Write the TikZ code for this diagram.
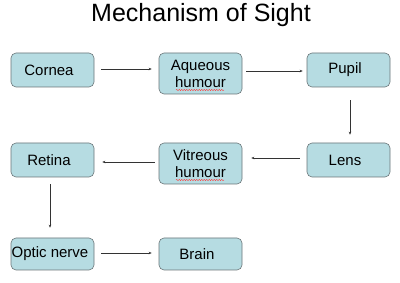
\documentclass[tikz,border=0pt]{standalone}
\usepackage{fontspec}
\setmainfont{Liberation Sans}
\usetikzlibrary{arrows.meta,decorations.pathmorphing}
\definecolor{boxfill}{HTML}{B6DCE2}
\definecolor{boxline}{HTML}{6A7578}
\newcommand{\lpad}{\rule{7pt}{0pt}}
\begin{document}
\begin{tikzpicture}[x=1pt,y=-1pt,
  stagebox/.style={draw=boxline,line width=0.6pt,fill=boxfill,rounded corners=5pt,
    minimum width=83pt,inner sep=0pt,font=\fontsize{15}{17}\selectfont,align=center},
  flow/.style={draw=black!80,line width=0.5pt,-{Stealth[length=3pt,width=2.5pt]}},
  squiggle/.style={draw=red!80,line width=0.4pt,decorate,decoration={snake,amplitude=0.6pt,segment length=2.5pt}}]
\useasboundingbox (0,0) rectangle (400,283);
\node[font=\fontsize{25}{27}\selectfont] (title) at (201,15) {Mechanism of Sight};
\node[stagebox,minimum height=34pt] (cornea) at (52.5,70) {Cornea\lpad};
\node[stagebox,minimum height=41pt] (aqueous) at (200.5,73.5) {Aqueous\\humour};
\node[stagebox,minimum height=34pt] (pupil) at (348.5,70) {Pupil\lpad};
\node[stagebox,minimum height=34pt] (retina) at (52.5,160) {Retina\lpad};
\node[stagebox,minimum height=41pt] (vitreous) at (200.5,163.5) {Vitreous\\humour};
\node[stagebox,minimum height=34pt] (lens) at (348.5,160) {Lens\lpad};
\node[stagebox,minimum height=32pt] (optic) at (52.5,254) {Optic nerve\rule{5pt}{0pt}};
\node[stagebox,minimum height=32pt] (brain) at (200.5,254) {Brain\lpad};
\draw[flow,shorten <=7pt,shorten >=7pt] (cornea.east |- 0,69) -- (aqueous.west |- 0,69);
\draw[flow,shorten <=4pt,shorten >=4pt] (aqueous.east |- 0,71) -- (pupil.west |- 0,71);
\draw[flow,shorten <=13pt,shorten >=8pt] (pupil.south -| 350,0) -- (lens.north -| 350,0);
\draw[flow,shorten <=7pt,shorten >=9pt] (lens.west |- 0,158) -- (vitreous.east |- 0,158);
\draw[flow,shorten <=4pt,shorten >=8pt] (vitreous.west |- 0,162) -- (retina.east |- 0,162);
\draw[flow,shorten <=7pt,shorten >=10pt] (retina.south -| 50,0) -- (optic.north -| 50,0);
\draw[flow,shorten <=7pt,shorten >=7pt] (optic.east |- 0,253) -- (brain.west |- 0,253);
\coordinate (aqa) at (176,90);
\coordinate (aqb) at (224,90);
\draw[squiggle] (aqa) -- (aqb);
\coordinate (vta) at (176,180);
\coordinate (vtb) at (224,180);
\draw[squiggle] (vta) -- (vtb);
\end{tikzpicture}
\end{document}
